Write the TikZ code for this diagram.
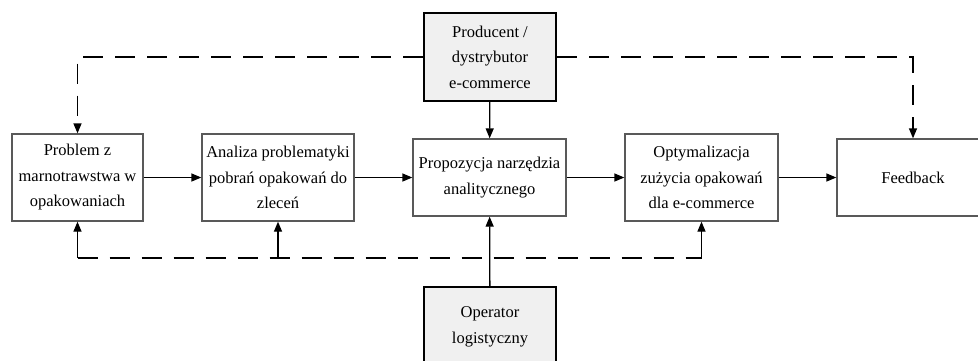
\documentclass[tikz,border=0pt]{standalone}
\usepackage{fontspec}
\setmainfont{Liberation Serif}
\usetikzlibrary{arrows.meta}
\begin{document}
\begin{tikzpicture}[x=1pt,y=-1pt,
  box/.style={draw=black!65,line width=1.3pt,align=center,inner sep=2pt,minimum height=87pt,font=\fontsize{16.5}{25.5}\selectfont},
  actor/.style={box,draw=black,line width=2.2pt,fill=black!6,minimum width=132pt,minimum height=88pt},
  link/.style={line width=1.3pt,-{Triangle[length=10pt,width=8pt]}},
  dashline/.style={line width=1.3pt,dash pattern=on 20pt off 12pt}]
\clip (0,0) rectangle (978,360);
\node[box,minimum width=131pt] (prob) at (77.5,177.5) {Problem z\\marnotrawstwa w\\opakowaniach};
\node[box,minimum width=152pt] (anal) at (278,177.5) {Analiza problematyki\\pobrań opakowań do\\zleceń};
\node[box,minimum width=153pt,minimum height=77pt] (prop) at (489.5,177.5) {Propozycja narzędzia\\analitycznego};
\node[box,minimum width=153pt] (opt) at (701.5,177.5) {Optymalizacja\\zużycia opakowań\\dla e-commerce};
\node[box,minimum width=152pt,minimum height=77pt] (feed) at (913,177.5) {Feedback};
\node[actor] (prod) at (490,57) {Producent /\\dystrybutor\\e-commerce};
\node[actor,minimum height=80pt] (oper) at (490,327) {Operator\\logistyczny};
\coordinate (bot) at (0,258);
% main flow
\draw[link] (prob) -- (anal);
\draw[link] (anal) -- (prop);
\draw[link] (prop) -- (opt);
\draw[link] (opt) -- (feed);
\draw[link] (prod) -- (prop);
\draw[link] (oper) -- (prop);
% feedback loops
\draw[dashline,link] (prod.west) -| (prob.north);
\draw[dashline,link] (prod.east) -| (feed.north);
\draw[dashline] (prob.south |- bot) -- (opt.south |- bot);
\foreach \n in {prob,anal,opt} \draw[link] (\n.south |- bot) -- (\n.south);
\end{tikzpicture}
\end{document}
